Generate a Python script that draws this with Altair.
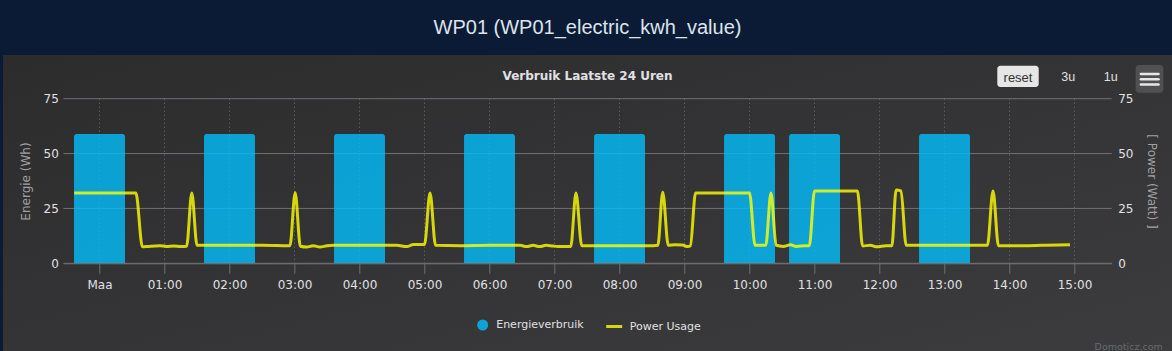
import altair as alt
import pandas as pd

# ---------------- data ----------------
bar_hours = [0, 2, 4, 6, 8, 10, 11, 13]
bar_values = [59, 59, 59, 59, 59, 59, 59, 59]

line_hours = [-0.39, 0.56, 0.66, 0.75, 0.93, 1.03, 1.14, 1.25, 1.34, 1.42, 1.50,
              2.0, 2.5, 2.93, 3.01, 3.09, 3.19, 3.29, 3.39, 3.50, 3.60, 4.0, 4.57,
              4.73, 4.83, 5.0, 5.085, 5.17, 5.55, 6.0, 6.47, 6.57, 6.67, 6.77, 6.87,
              6.97, 7.05, 7.25, 7.33, 7.42, 8.0, 8.52, 8.59, 8.665, 8.75, 8.85, 8.97,
              9.05, 9.09, 9.17, 10.0, 10.085, 10.25, 10.33, 10.41, 10.52, 10.63, 10.72,
              10.86, 10.92, 11.0, 11.66, 11.74, 11.86, 11.96, 12.10, 12.19, 12.255,
              12.33, 12.41, 13.0, 13.66, 13.746, 13.83, 14.2, 14.5, 14.93]
line_values = [32.0, 32.0, 7.5, 7.7, 8.0, 7.7, 7.9, 7.6, 7.8, 32.0, 8.2,
               8.2, 8.2, 8.0, 32.2, 7.8, 7.4, 8.0, 7.4, 8.0, 8.2, 8.2, 8.2,
               7.6, 8.6, 8.6, 32.0, 8.2, 8.0, 8.2, 8.2, 7.6, 8.2, 7.6, 8.2,
               7.9, 7.7, 7.7, 32.0, 8.0, 8.0, 8.0, 8.2, 32.4, 8.2, 8.5, 8.3,
               7.6, 8.0, 32.0, 32.0, 8.2, 8.2, 32.0, 8.2, 7.7, 8.4, 7.7,
               8.0, 8.0, 33.0, 33.0, 7.9, 8.2, 7.5, 8.0, 8.0, 33.4,
               33.0, 8.2, 8.2, 8.2, 33.0, 8.0, 8.0, 8.2, 8.5]

x_labels = ["Maa", "01:00", "02:00", "03:00", "04:00", "05:00", "06:00", "07:00",
            "08:00", "09:00", "10:00", "11:00", "12:00", "13:00", "14:00", "15:00"]
y_ticks = [0, 25, 50, 75]

bar_series = "Energieverbruik"
line_series = "Power Usage"

bars_df = pd.DataFrame({"h": bar_hours, "e": bar_values, "series": bar_series})
line_df = pd.DataFrame({"h": line_hours, "v": line_values, "series": line_series})
xgrid_df = pd.DataFrame({"h": list(range(len(x_labels)))})
ygrid_df = pd.DataFrame({"y": y_ticks})
deco = pd.DataFrame({"k": [0]})

# ---------------- style ----------------
W, H = 1048.4, 164.6
PAD = {"left": 63.3, "top": 98.7, "right": 60.3, "bottom": 87.7}
FONT = "DejaVu Sans"
LABEL_C = "#E0E0E3"
TITLE_C = "#A0A0A3"
GRID_C = "#707073"

x_scale = alt.Scale(domain=[-0.557, 15.572], nice=False, zero=False, padding=0)
y_scale = alt.Scale(domain=[0, 75], nice=False)
label_expr = "[" + ",".join("'%s'" % s for s in x_labels) + "][datum.value]"
x_axis = alt.Axis(values=list(range(len(x_labels))), labelExpr=label_expr, title=None,
                  grid=False, zindex=1,
                  tickColor=GRID_C, tickSize=10, domainColor=GRID_C,
                  labelFont=FONT, labelFontSize=12, labelColor=LABEL_C, labelPadding=6)

# panel background (drawn first)
panel = alt.Chart(deco).mark_rect(
    fill=alt.LinearGradient(gradient="linear",
                            stops=[alt.GradientStop(color="#2c2c2d", offset=0),
                                   alt.GradientStop(color="#3c3c3e", offset=1)],
                            x1=0, x2=1, y1=0, y2=1)
).encode(x=alt.value(-60.3), x2=alt.value(1108.7), y=alt.value(-43.7), y2=alt.value(252.3))

# grid lines (behind the series)
ygrid = alt.Chart(ygrid_df).mark_rule(color=GRID_C, strokeWidth=1).encode(
    y=alt.Y("y:Q", scale=y_scale, axis=None))
xgrid = alt.Chart(xgrid_df).mark_rule(color=GRID_C, strokeWidth=1, strokeDash=[1, 3]).encode(
    x=alt.X("h:Q", scale=x_scale, axis=x_axis))

bars = alt.Chart(bars_df).mark_bar(size=51, cornerRadiusTopLeft=3, cornerRadiusTopRight=3,
                                   opacity=0.8).encode(
    x=alt.X("h:Q", scale=x_scale, axis=x_axis),
    y=alt.Y("e:Q", scale=y_scale,
            axis=alt.Axis(orient="left", values=y_ticks, title="Energie (Wh)", zindex=1,
                          grid=False, ticks=False, domain=False,
                          labelFont=FONT, labelFontSize=12, labelColor=LABEL_C,
                          labelPadding=5, titleFont=FONT, titleFontSize=12,
                          titleFontWeight="normal", titleColor=TITLE_C, titlePadding=11)),
    fill=alt.Fill("series:N", scale=alt.Scale(domain=[bar_series], range=["#03befc"]),
                  legend=alt.Legend(orient="none", legendX=413.9, legendY=220.8, title=None,
                                    symbolType="circle", symbolSize=121, symbolOpacity=0.8,
                                    symbolStrokeWidth=0, labelFont=FONT, labelFontSize=11,
                                    labelColor=LABEL_C, labelOffset=8)),
)

line = alt.Chart(line_df).mark_line(interpolate="monotone", strokeWidth=3, opacity=0.8).encode(
    x=alt.X("h:Q", scale=x_scale, axis=x_axis),
    y=alt.Y("v:Q", scale=y_scale,
            axis=alt.Axis(orient="right", values=y_ticks, title="[ Power (Watt) ]", zindex=1,
                          grid=False, ticks=False, domain=False,
                          labelFont=FONT, labelFontSize=12, labelColor=LABEL_C,
                          labelPadding=6, titleFont=FONT, titleFontSize=12,
                          titleFontWeight="normal", titleColor=TITLE_C, titlePadding=12)),
    stroke=alt.Stroke("series:N", scale=alt.Scale(domain=[line_series], range=["#ffff00"]),
                      legend=alt.Legend(orient="none", legendX=541.4, legendY=218.3, title=None,
                                        symbolType="stroke", symbolSize=256, symbolOpacity=0.8,
                                        symbolStrokeWidth=3, labelFont=FONT, labelFontSize=11,
                                        labelColor=LABEL_C, labelOffset=6)),
)

# ---------------- decorations (page header, buttons, credits) ----------------
def text(t, x, y, size, color, font=FONT, weight="normal", align="center"):
    return alt.Chart(deco).mark_text(align=align, baseline="alphabetic", font=font,
                                     fontSize=size, fontWeight=weight, color=color).encode(
        x=alt.value(x), y=alt.value(y), text=alt.value(t))


header = text("WP01 (WP01_electric_kwh_value)", 524.2, -65.2, 20, "#dde3ec",
              font="Liberation Sans")
subtitle = text("Verbruik Laatste 24 Uren", 524.2, -18.7, 12, LABEL_C, weight="bold")

reset_btn = alt.Chart(deco).mark_rect(fill="#e6e6e6", cornerRadius=3).encode(
    x=alt.value(934.0), x2=alt.value(975.4), y=alt.value(-33.0), y2=alt.value(-11.7))
reset_txt = text("reset", 954.7, -17.2, 13, "#333333", font="Liberation Sans")
btn3 = text("3u", 1005.0, -17.4, 12.5, LABEL_C, font="Liberation Sans")
btn1 = text("1u", 1047.4, -17.4, 12.5, LABEL_C, font="Liberation Sans")
menu_btn = alt.Chart(deco).mark_rect(fill="#505053", cornerRadius=3).encode(
    x=alt.value(1072.4), x2=alt.value(1100.0), y=alt.value(-33.7), y2=alt.value(-6.0))
menu_lines = [
    alt.Chart(deco).mark_rule(color="#e6e6e6", strokeWidth=2.5, strokeCap="round").encode(
        x=alt.value(1077.6), x2=alt.value(1095.2), y=alt.value(yy))
    for yy in (-24.7, -19.4, -14.1)
]
credit = text("Domoticz.com", 1099.4, 251.3, 9.5, "#666a70", align="right")

chart = alt.layer(
    panel, ygrid, xgrid, bars, line, header, subtitle, reset_btn, reset_txt, btn3, btn1,
    menu_btn, *menu_lines, credit
).resolve_scale(y="independent").properties(
    width=W, height=H, autosize=alt.AutoSizeParams(type="none"), padding=PAD,
    background="#0b1b35"
).configure_view(strokeWidth=0)

chart.save("out.html", embed_options={"renderer": "svg", "actions": False})
